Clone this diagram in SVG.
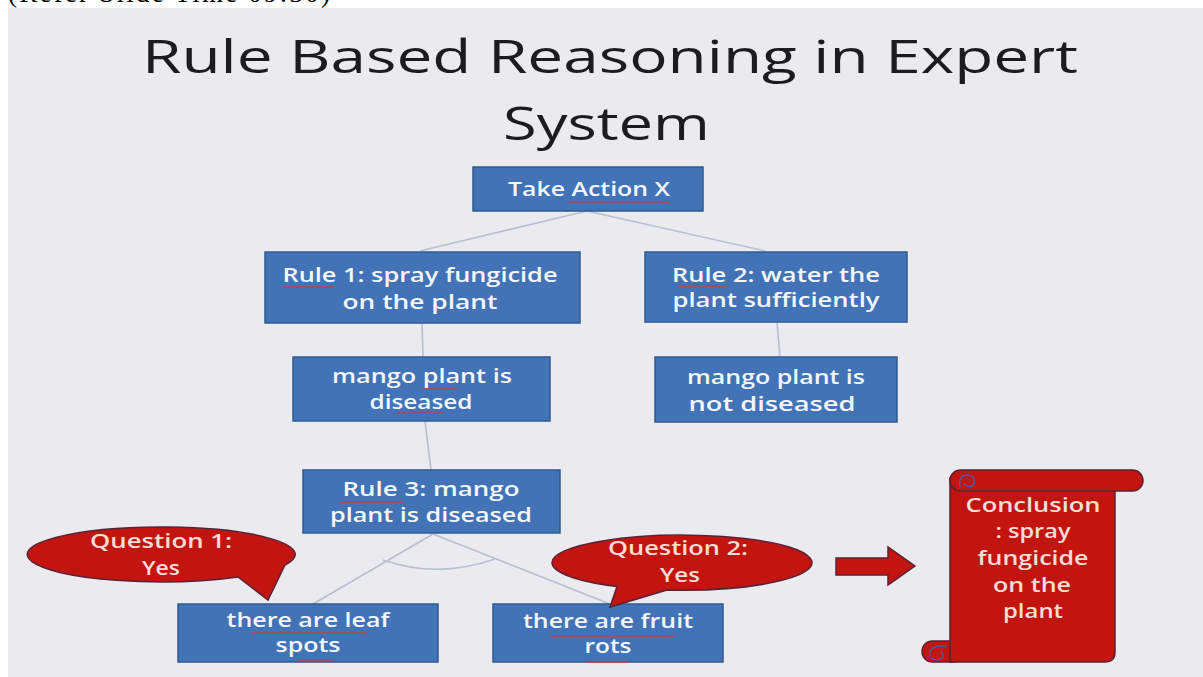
<svg xmlns="http://www.w3.org/2000/svg" width="1203" height="677" viewBox="0 0 1203 677">
<defs>
<style>
.box{fill:#4173b6;stroke:#2e5b92;stroke-width:1.5}
.bt{font-family:"Open Sans","Liberation Sans",sans-serif;font-size:20px;font-weight:600;fill:#f4f6fb;text-anchor:middle}
.rt{font-family:"Open Sans","Liberation Sans",sans-serif;font-size:20px;font-weight:600;fill:#f6dcd6;text-anchor:middle}
.red{fill:#c3150f;stroke:#5a2238;stroke-width:1.5}
.con{stroke:#b9bfd0;stroke-width:1.6;fill:none}
.sp{stroke:#d23a44;stroke-width:1.3;fill:none;opacity:0.85}
.title{font-family:"Open Sans","Liberation Sans",sans-serif;font-size:46px;fill:#1c1c1e}
</style>
</defs>
<rect x="0" y="0" width="1203" height="677" fill="#ffffff"/>
<rect x="8" y="8" width="1195" height="669" fill="#ebeaee"/>
<text x="8" y="2" font-family="Liberation Serif,serif" font-size="27" textLength="322" fill="#000">(Refer Slide Time 09:30)</text>

<g id="title">
<text class="title" x="142" y="73" textLength="936" lengthAdjust="spacingAndGlyphs">Rule Based Reasoning in Expert</text>
<text class="title" x="503" y="140" font-size="47" textLength="207" lengthAdjust="spacingAndGlyphs">System</text>
</g>

<g id="connectors">
<line class="con" x1="587" y1="211" x2="420" y2="251"/>
<line class="con" x1="587" y1="211" x2="765" y2="251"/>
<line class="con" x1="422" y1="323" x2="423" y2="357"/>
<line class="con" x1="777" y1="322" x2="780" y2="357"/>
<line class="con" x1="425" y1="421" x2="431" y2="470"/>
<line class="con" x1="433" y1="534" x2="313" y2="604"/>
<line class="con" x1="433" y1="534" x2="610" y2="604"/>
<path class="con" d="M383,560 Q438,579 495,559"/>
</g>

<g id="take-action">
<rect class="box" x="473" y="167" width="230" height="44"/>
<text class="bt" x="589" y="196" textLength="162" lengthAdjust="spacingAndGlyphs">Take Action X</text>
<path class="sp" d="M568,202 L670,202"/>
</g>

<g id="rule1">
<rect class="box" x="265" y="252" width="315" height="71"/>
<text class="bt" x="420" y="282" textLength="275" lengthAdjust="spacingAndGlyphs">Rule 1: spray fungicide</text>
<text class="bt" x="420" y="309" textLength="155" lengthAdjust="spacingAndGlyphs">on the plant</text>
<path class="sp" d="M283,287 L333,287"/>
</g>

<g id="rule2">
<rect class="box" x="645" y="252" width="262" height="70"/>
<text class="bt" x="776" y="282" textLength="208" lengthAdjust="spacingAndGlyphs">Rule 2: water the</text>
<text class="bt" x="776" y="307" textLength="207" lengthAdjust="spacingAndGlyphs">plant sufficiently</text>
<path class="sp" d="M678,286 L728,286"/>
</g>

<g id="mango-diseased">
<rect class="box" x="293" y="357" width="257" height="64"/>
<text class="bt" x="422" y="383" textLength="180" lengthAdjust="spacingAndGlyphs">mango plant is</text>
<text class="bt" x="421" y="409" textLength="103" lengthAdjust="spacingAndGlyphs">diseased</text>
<path class="sp" d="M423,389 L457,389"/>
<path class="sp" d="M397,413 L443,413"/>
</g>

<g id="mango-not-diseased">
<rect class="box" x="655" y="357" width="242" height="65"/>
<text class="bt" x="776" y="384" textLength="178" lengthAdjust="spacingAndGlyphs">mango plant is</text>
<text class="bt" x="772" y="411" textLength="167" lengthAdjust="spacingAndGlyphs">not diseased</text>
</g>

<g id="rule3">
<rect class="box" x="303" y="470" width="257" height="63"/>
<text class="bt" x="431" y="496" textLength="177" lengthAdjust="spacingAndGlyphs">Rule 3: mango</text>
<text class="bt" x="431" y="522" textLength="202" lengthAdjust="spacingAndGlyphs">plant is diseased</text>
<path class="sp" d="M340,502 L403,502"/>
</g>

<g id="leaf-spots">
<rect class="box" x="178" y="604" width="260" height="58"/>
<text class="bt" x="308" y="627" textLength="163" lengthAdjust="spacingAndGlyphs">there are leaf</text>
<text class="bt" x="308" y="652" textLength="65" lengthAdjust="spacingAndGlyphs">spots</text>
<path class="sp" d="M252,633 L367,633"/>
<path class="sp" d="M298,660 L333,660"/>
</g>

<g id="fruit-rots">
<rect class="box" x="493" y="604" width="230" height="58"/>
<text class="bt" x="608" y="628" textLength="170" lengthAdjust="spacingAndGlyphs">there are fruit</text>
<text class="bt" x="608" y="653" textLength="47" lengthAdjust="spacingAndGlyphs">rots</text>
<path class="sp" d="M550,636 L675,636"/>
<path class="sp" d="M587,662 L628,662"/>
</g>

<g id="question1">
<path class="red" d="M238,577 L268,600 L285,565 A134,27.5 0 1 0 238,577 Z"/>
<text class="rt" x="161" y="548" textLength="142" lengthAdjust="spacingAndGlyphs">Question 1:</text>
<text class="rt" x="161" y="575" textLength="38" lengthAdjust="spacingAndGlyphs">Yes</text>
</g>

<g id="question2">
<path class="red" d="M617,586.5 L610,607 L667,590 A130,27.5 0 1 0 617,586.5 Z"/>
<text class="rt" x="678" y="555" textLength="140" lengthAdjust="spacingAndGlyphs">Question 2:</text>
<text class="rt" x="680" y="582" textLength="40" lengthAdjust="spacingAndGlyphs">Yes</text>
</g>

<g id="arrow">
<path class="red" d="M836,558 L888,558 L888,547 L915,566 L888,585 L888,575 L836,575 Z"/>
</g>

<g id="conclusion">
<rect class="red" x="922" y="641" width="42" height="21" rx="10.5"/>
<path class="red" d="M950,478 L1115,478 L1115,652 Q1115,662 1105,662 L950,662 Z"/>
<rect class="red" x="950" y="470" width="193" height="21" rx="10.5"/>
<path d="M960,487 Q958,475 968,475 Q976,476 974,484 Q970,489 964,484" fill="none" stroke="#4b5a96" stroke-width="1.5"/>
<path d="M946,647 Q936,644 930,651 Q928,660 938,660 Q946,658 941,652" fill="none" stroke="#4b5a96" stroke-width="1.5"/>
<text class="rt" x="1033" y="512" textLength="135" lengthAdjust="spacingAndGlyphs">Conclusion</text>
<text class="rt" x="1033" y="538" textLength="75" lengthAdjust="spacingAndGlyphs">: spray</text>
<text class="rt" x="1033" y="565" textLength="111" lengthAdjust="spacingAndGlyphs">fungicide</text>
<text class="rt" x="1032" y="592" textLength="78" lengthAdjust="spacingAndGlyphs">on the</text>
<text class="rt" x="1033" y="618" textLength="60" lengthAdjust="spacingAndGlyphs">plant</text>
</g>
</svg>
